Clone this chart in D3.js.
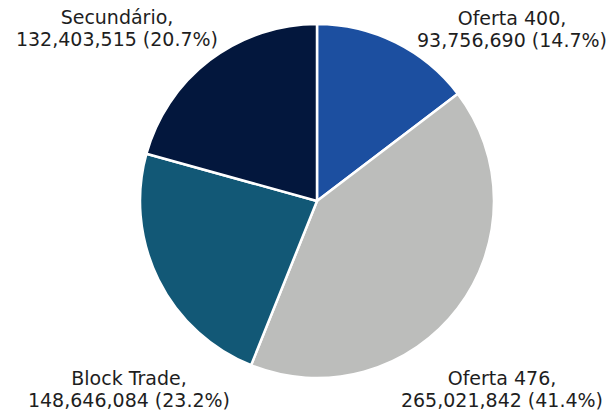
<!DOCTYPE html>
<meta charset="utf-8">
<style>
body { margin: 0; background: #fff; }
.lbl { font-family: "DejaVu Sans", Verdana, sans-serif; font-size: 19px; fill: #1e1e1e; }
</style>
<body>
<script src="https://d3js.org/d3.v7.min.js"></script>
<script>
// data
var categories = ["Oferta 400", "Oferta 476", "Block Trade", "Secundário"];
var values = [93756690, 265021842, 148646084, 132403515];
var colors = ["#1c4fa0", "#bcbdbb", "#125876", "#03173d"];

var width = 612, height = 415;
var cx = 317, cy = 201, radius = 177;

// label anchors (layout only), one per category
var labelPos = [[512, 25], [502, 385], [129, 385], [117, 24]];

var svg = d3.select("body").append("svg")
    .attr("width", width)
    .attr("height", height);

var total = d3.sum(values);
var chartData = categories.map(function(c, i) {
  return { name: c, value: values[i], color: colors[i] };
});

var pie = d3.pie().sort(null).value(function(d) { return d.value; });
var arc = d3.arc().innerRadius(0).outerRadius(radius);

var g = svg.append("g").attr("transform", "translate(" + cx + "," + cy + ")");

g.selectAll("path")
    .data(pie(chartData))
  .enter().append("path")
    .attr("d", arc)
    .attr("fill", function(d) { return d.data.color; })
    .attr("stroke", "#fff")
    .attr("stroke-width", 2.5)
    .attr("stroke-linejoin", "round");

var fmt = d3.format(",");
var lbl = svg.selectAll("text.lbl")
    .data(chartData)
  .enter().append("text")
    .attr("class", "lbl")
    .attr("text-anchor", "middle")
    .attr("x", function(d, i) { return labelPos[i][0]; })
    .attr("y", function(d, i) { return labelPos[i][1]; });

lbl.append("tspan")
    .attr("x", function(d, i) { return labelPos[i][0]; })
    .text(function(d) { return d.name + ","; });
lbl.append("tspan")
    .attr("x", function(d, i) { return labelPos[i][0]; })
    .attr("dy", 22)
    .text(function(d) {
      return fmt(d.value) + " (" + (d.value / total * 100).toFixed(1) + "%)";
    });
</script>
</body>
